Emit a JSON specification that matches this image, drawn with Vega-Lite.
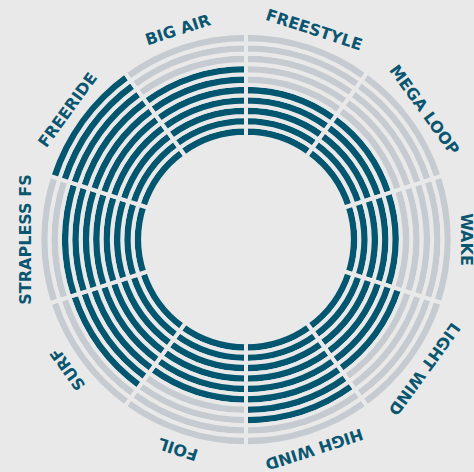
{
  "$schema": "https://vega.github.io/schema/vega-lite/v6.json",
  "width": 456,
  "height": 465,
  "autosize": {"type": "none"},
  "padding": {"left": 18, "top": 7, "right": 0, "bottom": 0},
  "background": "#e9e9e9",
  "config": {"view": {"stroke": null}},
  "datasets": {
    "cells": [
      {"cat":"FREESTYLE","seg":0,"ring":1,"state":"on"},{"cat":"FREESTYLE","seg":0,"ring":2,"state":"on"},{"cat":"FREESTYLE","seg":0,"ring":3,"state":"on"},{"cat":"FREESTYLE","seg":0,"ring":4,"state":"on"},{"cat":"FREESTYLE","seg":0,"ring":5,"state":"on"},{"cat":"FREESTYLE","seg":0,"ring":6,"state":"off"},{"cat":"FREESTYLE","seg":0,"ring":7,"state":"off"},{"cat":"FREESTYLE","seg":0,"ring":8,"state":"off"},{"cat":"FREESTYLE","seg":0,"ring":9,"state":"off"},{"cat":"FREESTYLE","seg":0,"ring":10,"state":"off"},
      {"cat":"MEGA LOOP","seg":1,"ring":1,"state":"on"},{"cat":"MEGA LOOP","seg":1,"ring":2,"state":"on"},{"cat":"MEGA LOOP","seg":1,"ring":3,"state":"on"},{"cat":"MEGA LOOP","seg":1,"ring":4,"state":"on"},{"cat":"MEGA LOOP","seg":1,"ring":5,"state":"on"},{"cat":"MEGA LOOP","seg":1,"ring":6,"state":"off"},{"cat":"MEGA LOOP","seg":1,"ring":7,"state":"off"},{"cat":"MEGA LOOP","seg":1,"ring":8,"state":"off"},{"cat":"MEGA LOOP","seg":1,"ring":9,"state":"off"},{"cat":"MEGA LOOP","seg":1,"ring":10,"state":"off"},
      {"cat":"WAKE","seg":2,"ring":1,"state":"on"},{"cat":"WAKE","seg":2,"ring":2,"state":"on"},{"cat":"WAKE","seg":2,"ring":3,"state":"on"},{"cat":"WAKE","seg":2,"ring":4,"state":"on"},{"cat":"WAKE","seg":2,"ring":5,"state":"on"},{"cat":"WAKE","seg":2,"ring":6,"state":"off"},{"cat":"WAKE","seg":2,"ring":7,"state":"off"},{"cat":"WAKE","seg":2,"ring":8,"state":"off"},{"cat":"WAKE","seg":2,"ring":9,"state":"off"},{"cat":"WAKE","seg":2,"ring":10,"state":"off"},
      {"cat":"LIGHT WIND","seg":3,"ring":1,"state":"on"},{"cat":"LIGHT WIND","seg":3,"ring":2,"state":"on"},{"cat":"LIGHT WIND","seg":3,"ring":3,"state":"on"},{"cat":"LIGHT WIND","seg":3,"ring":4,"state":"on"},{"cat":"LIGHT WIND","seg":3,"ring":5,"state":"on"},{"cat":"LIGHT WIND","seg":3,"ring":6,"state":"on"},{"cat":"LIGHT WIND","seg":3,"ring":7,"state":"off"},{"cat":"LIGHT WIND","seg":3,"ring":8,"state":"off"},{"cat":"LIGHT WIND","seg":3,"ring":9,"state":"off"},{"cat":"LIGHT WIND","seg":3,"ring":10,"state":"off"},
      {"cat":"HIGH WIND","seg":4,"ring":1,"state":"on"},{"cat":"HIGH WIND","seg":4,"ring":2,"state":"on"},{"cat":"HIGH WIND","seg":4,"ring":3,"state":"on"},{"cat":"HIGH WIND","seg":4,"ring":4,"state":"on"},{"cat":"HIGH WIND","seg":4,"ring":5,"state":"on"},{"cat":"HIGH WIND","seg":4,"ring":6,"state":"on"},{"cat":"HIGH WIND","seg":4,"ring":7,"state":"on"},{"cat":"HIGH WIND","seg":4,"ring":8,"state":"on"},{"cat":"HIGH WIND","seg":4,"ring":9,"state":"off"},{"cat":"HIGH WIND","seg":4,"ring":10,"state":"off"},
      {"cat":"FOIL","seg":5,"ring":1,"state":"on"},{"cat":"FOIL","seg":5,"ring":2,"state":"on"},{"cat":"FOIL","seg":5,"ring":3,"state":"on"},{"cat":"FOIL","seg":5,"ring":4,"state":"on"},{"cat":"FOIL","seg":5,"ring":5,"state":"on"},{"cat":"FOIL","seg":5,"ring":6,"state":"on"},{"cat":"FOIL","seg":5,"ring":7,"state":"off"},{"cat":"FOIL","seg":5,"ring":8,"state":"off"},{"cat":"FOIL","seg":5,"ring":9,"state":"off"},{"cat":"FOIL","seg":5,"ring":10,"state":"off"},
      {"cat":"SURF","seg":6,"ring":1,"state":"on"},{"cat":"SURF","seg":6,"ring":2,"state":"on"},{"cat":"SURF","seg":6,"ring":3,"state":"on"},{"cat":"SURF","seg":6,"ring":4,"state":"on"},{"cat":"SURF","seg":6,"ring":5,"state":"on"},{"cat":"SURF","seg":6,"ring":6,"state":"on"},{"cat":"SURF","seg":6,"ring":7,"state":"on"},{"cat":"SURF","seg":6,"ring":8,"state":"on"},{"cat":"SURF","seg":6,"ring":9,"state":"off"},{"cat":"SURF","seg":6,"ring":10,"state":"off"},
      {"cat":"STRAPLESS FS","seg":7,"ring":1,"state":"on"},{"cat":"STRAPLESS FS","seg":7,"ring":2,"state":"on"},{"cat":"STRAPLESS FS","seg":7,"ring":3,"state":"on"},{"cat":"STRAPLESS FS","seg":7,"ring":4,"state":"on"},{"cat":"STRAPLESS FS","seg":7,"ring":5,"state":"on"},{"cat":"STRAPLESS FS","seg":7,"ring":6,"state":"on"},{"cat":"STRAPLESS FS","seg":7,"ring":7,"state":"on"},{"cat":"STRAPLESS FS","seg":7,"ring":8,"state":"on"},{"cat":"STRAPLESS FS","seg":7,"ring":9,"state":"off"},{"cat":"STRAPLESS FS","seg":7,"ring":10,"state":"off"},
      {"cat":"FREERIDE","seg":8,"ring":1,"state":"on"},{"cat":"FREERIDE","seg":8,"ring":2,"state":"on"},{"cat":"FREERIDE","seg":8,"ring":3,"state":"on"},{"cat":"FREERIDE","seg":8,"ring":4,"state":"on"},{"cat":"FREERIDE","seg":8,"ring":5,"state":"on"},{"cat":"FREERIDE","seg":8,"ring":6,"state":"on"},{"cat":"FREERIDE","seg":8,"ring":7,"state":"on"},{"cat":"FREERIDE","seg":8,"ring":8,"state":"on"},{"cat":"FREERIDE","seg":8,"ring":9,"state":"on"},{"cat":"FREERIDE","seg":8,"ring":10,"state":"on"},
      {"cat":"BIG AIR","seg":9,"ring":1,"state":"on"},{"cat":"BIG AIR","seg":9,"ring":2,"state":"on"},{"cat":"BIG AIR","seg":9,"ring":3,"state":"on"},{"cat":"BIG AIR","seg":9,"ring":4,"state":"on"},{"cat":"BIG AIR","seg":9,"ring":5,"state":"on"},{"cat":"BIG AIR","seg":9,"ring":6,"state":"on"},{"cat":"BIG AIR","seg":9,"ring":7,"state":"on"},{"cat":"BIG AIR","seg":9,"ring":8,"state":"off"},{"cat":"BIG AIR","seg":9,"ring":9,"state":"off"},{"cat":"BIG AIR","seg":9,"ring":10,"state":"off"}
    ],
    "labels": [
      {"cat":"FREESTYLE","seg":0},{"cat":"MEGA LOOP","seg":1},{"cat":"WAKE","seg":2},{"cat":"LIGHT WIND","seg":3},{"cat":"HIGH WIND","seg":4},
      {"cat":"FOIL","seg":5},{"cat":"SURF","seg":6},{"cat":"STRAPLESS FS","seg":7},{"cat":"FREERIDE","seg":8},{"cat":"BIG AIR","seg":9}
    ]
  },
  "layer": [
    {
      "data": {"name": "cells"},
      "mark": {"type": "arc", "stroke": "#e9e9e9", "strokeWidth": 4, "theta2Offset": 0.6283185, "radius2Offset": -10.39},
      "encoding": {
        "theta": {"field": "seg", "type": "quantitative", "scale": {"type": "linear", "zero": false, "domain": [0, 10], "range": [0, 6.2831853]}},
        "theta2": {"field": "seg"},
        "radius": {"field": "ring", "type": "quantitative", "scale": {"type": "linear", "zero": false, "domain": [0, 10], "range": [102.8, 206.7]}},
        "radius2": {"field": "ring"},
        "color": {"field": "state", "type": "nominal", "scale": {"domain": ["on", "off"], "range": ["#02566f", "#c5cbd0"]}, "legend": null},
        "tooltip": [{"field": "cat"}, {"field": "ring"}]
      }
    },
    {
      "data": {"name": "labels"},
      "mark": {"type": "text", "radius": 220, "font": "DejaVu Sans", "fontWeight": "bold", "fontSize": 16, "color": "#0a5670", "align": "center", "baseline": "middle"},
      "encoding": {
        "theta": {"field": "seg", "type": "quantitative", "scale": {"type": "linear", "zero": false, "domain": [-0.5, 9.5], "range": [0, 6.2831853]}},
        "angle": {"field": "seg", "type": "quantitative", "scale": {"type": "linear", "zero": false, "domain": [-0.5, 9.5], "range": [0, 360]}},
        "text": {"field": "cat"}
      }
    }
  ],
  "resolve": {"scale": {"theta": "independent"}}
}
